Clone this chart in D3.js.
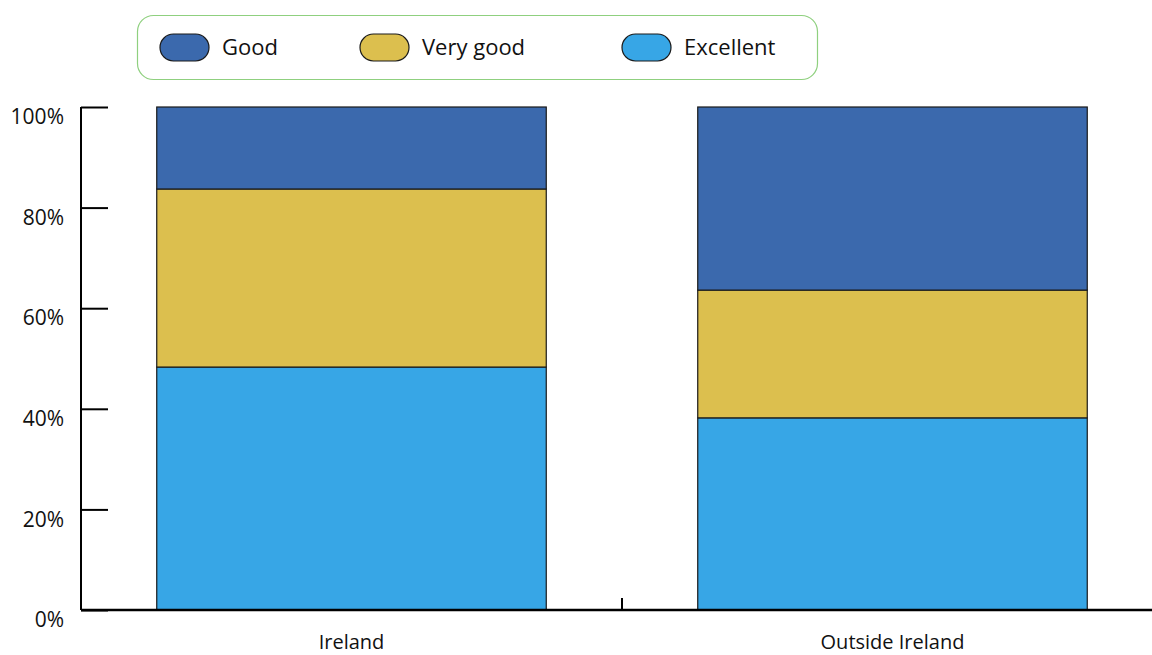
<!DOCTYPE html>
<html>
<head>
<meta charset="utf-8">
<script src="https://cdn.jsdelivr.net/npm/d3@7"></script>
<style>
  html, body { margin: 0; padding: 0; background: #fff; }
  svg { display: block; font-family: "Open Sans", "Noto Sans", sans-serif; }
</style>
</head>
<body>
<svg id="chart" width="1152" height="655"></svg>
<script>
// ---- data ----
const categories = ["Ireland", "Outside Ireland"];
const seriesNames = ["Excellent", "Very good", "Good"];
const excellent = [48.3, 38.2];
const veryGood = [35.4, 25.4];
const good = [16.3, 36.4];
const yTickValues = [0, 20, 40, 60, 80, 100];
const legendOrder = ["Good", "Very good", "Excellent"];
const colors = { "Good": "#3b69ad", "Very good": "#dcbf4e", "Excellent": "#37a6e6" };

// ---- layout ----
const svg = d3.select("#chart");
const x0 = 81, yTop = 107, yBottom = 610;
const legendItemX = [160, 360, 622];
const x = d3.scaleBand().domain(categories).range([x0, x0 + 1082]).paddingInner(0.28).paddingOuter(0.14);
const y = d3.scaleLinear().domain([0, 100]).range([yBottom, yTop]);

const rows = categories.map((c, i) => ({
  category: c, "Excellent": excellent[i], "Very good": veryGood[i], "Good": good[i]
}));
const stacked = d3.stack().keys(seriesNames)(rows);

// bars
svg.append("g").selectAll("g").data(stacked).join("g")
  .attr("fill", d => colors[d.key])
  .selectAll("rect").data(d => d).join("rect")
  .attr("x", d => x(d.data.category))
  .attr("y", d => y(d[1]))
  .attr("width", x.bandwidth())
  .attr("height", d => y(d[0]) - y(d[1]))
  .attr("stroke", "#1a1a1a")
  .attr("stroke-width", 1.2);

// y axis
const yAxis = svg.append("g").attr("transform", `translate(${x0},0)`)
  .call(d3.axisRight(y).tickValues(yTickValues).tickSize(27).tickFormat(d => d + "%"));
yAxis.select(".domain").attr("stroke", "#000").attr("stroke-width", 2).attr("d", `M0,${yTop}V${yBottom}`);
yAxis.selectAll(".tick line").attr("stroke", "#000").attr("stroke-width", 2);
yAxis.selectAll(".tick text")
  .attr("x", -17).attr("dy", "0.32em").attr("y", 10)
  .attr("text-anchor", "end")
  .style("font-size", "21px").style("font-family", "'Open Sans', sans-serif").attr("fill", "#111");

// x axis
const xAxisG = svg.append("g").attr("transform", `translate(0,${yBottom})`);
xAxisG.append("line").attr("x1", x0).attr("x2", 1152).attr("y1", 0).attr("y2", 0)
  .attr("stroke", "#000").attr("stroke-width", 2.5);
// boundary tick between categories
xAxisG.selectAll("line.bt").data(categories.slice(1)).join("line").attr("class", "bt")
  .attr("x1", c => x(c) - (x.step() - x.bandwidth()) / 2)
  .attr("x2", c => x(c) - (x.step() - x.bandwidth()) / 2)
  .attr("y1", 0).attr("y2", -12).attr("stroke", "#000").attr("stroke-width", 2);
xAxisG.selectAll("text").data(categories).join("text")
  .attr("x", c => x(c) + x.bandwidth() / 2)
  .attr("y", 39)
  .attr("text-anchor", "middle")
  .style("font-size", "20px").attr("fill", "#111")
  .text(c => c);

// legend
const legend = svg.append("g");
legend.append("rect").attr("x", 137.5).attr("y", 15.5).attr("width", 680).attr("height", 64)
  .attr("rx", 16).attr("fill", "#fff").attr("stroke", "#8fd07f").attr("stroke-width", 1.2);
const li = legend.selectAll("g.item").data(legendOrder).join("g").attr("class", "item")
  .attr("transform", (d, i) => `translate(${legendItemX[i]},34)`);
li.append("rect").attr("width", 49).attr("height", 27).attr("rx", 13.5)
  .attr("fill", d => colors[d]).attr("stroke", "#1a1a1a").attr("stroke-width", 1.2);
li.append("text").attr("x", 62).attr("y", 21)
  .style("font-size", "22px").attr("fill", "#111").text(d => d);
</script>
</body>
</html>
